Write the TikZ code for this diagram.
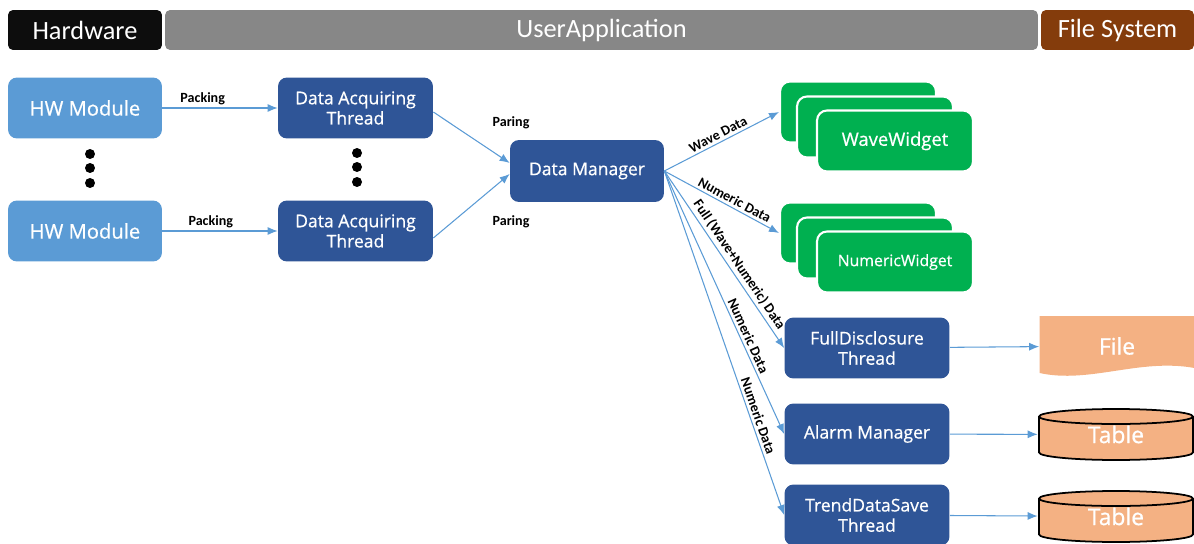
\documentclass[tikz,border=0pt]{standalone}
\usepackage{fontspec}
\setmainfont{Open Sans}
\newfontfamily\semifont{Open Sans}[FakeBold=0.7]
\newfontfamily\calfont{Carlito}
\usepackage{tikz}
\usetikzlibrary{arrows.meta,calc}
\definecolor{hwblue}{HTML}{5B9BD5}
\definecolor{thrblue}{HTML}{2F5597}
\definecolor{wgreen}{HTML}{00B050}
\definecolor{hdblack}{HTML}{0D0D0D}
\definecolor{hdgray}{HTML}{878787}
\definecolor{hdbrown}{HTML}{843C0C}
\definecolor{peach}{HTML}{F4B183}
\definecolor{lnblue}{HTML}{5B9BD5}

\begin{document}
\begin{tikzpicture}[x=0.02cm, y=-0.02cm,
    hdr/.style={rectangle, rounded corners=0.1cm, minimum height=0.8cm, text=white, font=\calfont\fontsize{15}{17}\selectfont},
    hwbox/.style={rectangle, rounded corners=0.18cm, fill=hwblue, minimum width=3.08cm, minimum height=1.22cm, text=white, align=center, font=\semifont\fontsize{11.5}{13}\selectfont},
    thrbox/.style={rectangle, rounded corners=0.18cm, fill=thrblue, minimum width=3.1cm, minimum height=1.22cm, text=white, align=center, font=\semifont\fontsize{10}{11.5}\selectfont},
    card/.style={rectangle, rounded corners=0.2cm, fill=wgreen, draw=white, line width=1.2pt, minimum width=3.12cm, minimum height=1.22cm, text=white, font=\semifont\fontsize{10.5}{12}\selectfont},
    dot/.style={circle, fill=black, inner sep=0pt, minimum size=0.2cm},
    lbl/.style={font=\calfont\bfseries\fontsize{8}{9}\selectfont, inner sep=1.5pt},
    arrow/.style={-{Latex[length=2mm,width=1.6mm]}, draw=lnblue, line width=0.6pt},
    filedoc/.style={minimum width=3.1cm, minimum height=1.2cm, text=white, font=\semifont\fontsize{13}{15}\selectfont,
        path picture={
            \fill[peach] (path picture bounding box.north west) -- (path picture bounding box.north east)
                -- ([shift={(0,-8)}]path picture bounding box.south east)
                .. controls ([shift={(-55,-18)}]path picture bounding box.south east) and ([shift={(50,8)}]path picture bounding box.south west)
                .. ([shift={(0,-3)}]path picture bounding box.south west) -- cycle;
        }},
    tablecyl/.style={minimum width=3.12cm, minimum height=1.06cm, text=white, font=\semifont\fontsize{13}{15}\selectfont,
        path picture={
            \draw[fill=peach, line width=1pt]
                ([shift={(1,8.5)}]path picture bounding box.north west) -- ([shift={(1,-8.5)}]path picture bounding box.south west)
                arc[start angle=180, end angle=360, x radius=1.54cm, y radius=0.15cm]
                -- ([shift={(-1,8.5)}]path picture bounding box.north east)
                arc[start angle=0, end angle=180, x radius=1.54cm, y radius=0.15cm] -- cycle;
            \draw[line width=1pt] ([shift={(1,8.5)}]path picture bounding box.north west)
                arc[start angle=180, end angle=360, x radius=1.54cm, y radius=0.15cm];
        }}
]
    \useasboundingbox (0,0) rectangle (1194,544);

    % Header bar
    \node[hdr, fill=hdblack, minimum width=3.08cm] (hdhw) at (85,30) {Hardware};
    \node[hdr, fill=hdgray, minimum width=17.46cm] (hdua) at (601.5,30) {UserApplication};
    \node[hdr, fill=hdbrown, minimum width=3.06cm] (hdfs) at (1117.5,30) {File System};

    % Hardware modules
    \node[hwbox] (hw1) at (85,108) {HW Module};
    \node[hwbox] (hw2) at (85,231) {HW Module};
    \node[dot] (hwd1) at (90,154) {};
    \node[dot] (hwd2) at (90,168) {};
    \node[dot] (hwd3) at (90,183) {};

    % Acquiring threads
    \node[thrbox] (dat1) at (355.5,108) {Data Acquiring\\Thread};
    \node[thrbox] (dat2) at (355.5,231) {Data Acquiring\\Thread};
    \node[dot] (datd1) at (357,153) {};
    \node[dot] (datd2) at (357,167) {};
    \node[dot] (datd3) at (357,182) {};

    % Manager
    \node[thrbox, minimum width=3.08cm, minimum height=1.24cm] (dm) at (587,171) {Data Manager};

    % Widgets
    \node[card] (wave3) at (858,112) {};
    \node[card] (wave2) at (875,127) {};
    \node[card] (wave1) at (895,141) {WaveWidget};
    \node[card] (num3) at (858,233) {};
    \node[card] (num2) at (875,248) {};
    \node[card, font=\semifont\fontsize{9}{11}\selectfont] (num1) at (895,262) {NumericWidget};

    % Save threads
    \node[thrbox, minimum width=3.3cm] (fd) at (867,348) {FullDisclosure\\Thread};
    \node[thrbox, minimum width=3.3cm] (alarm) at (867,434) {Alarm Manager};
    \node[thrbox, minimum width=3.3cm] (trend) at (867,515) {TrendDataSave\\Thread};

    % File system
    \node[filedoc] (file) at (1117,346) {File};
    \node[tablecyl] (tab1) at (1116,434.5) {Table};
    \node[tablecyl] (tab2) at (1116,516.5) {Table};

    % Arrows
    \draw[arrow] (hw1) -- (dat1) node[lbl, above, pos=0.35] (pk1) {Packing};
    \draw[arrow] (hw2) -- (dat2) node[lbl, above, pos=0.42] (pk2) {Packing};
    \draw[arrow] ([yshift=-0.08cm]dat1.east) -- ([yshift=0.16cm]dm.west);
    \draw[arrow] ([yshift=-0.14cm]dat2.east) -- ([yshift=-0.06cm]dm.west);
    \node[lbl] (par1) at (511,123) {Paring};
    \node[lbl] (par2) at (511,222) {Paring};
    \draw[arrow] (dm.east) -- (wave3.west) node[lbl, sloped, above, pos=0.5] (lwave) {Wave Data};
    \draw[arrow] (dm.east) -- (num3.west) node[lbl, sloped, above, pos=0.58] (lnum) {Numeric Data};
    \draw[arrow] (dm.east) -- (fd.west) node[lbl, sloped, above, pos=0.56] (lfull) {Full (Wave+Numeric) Data};
    \draw[arrow] (dm.east) -- (alarm.west) node[lbl, sloped, above, pos=0.64] (lalm) {Numeric Data};
    \draw[arrow] (dm.east) -- (trend.west) node[lbl, sloped, above, pos=0.72] (ltrd) {Numeric Data};
    \draw[arrow] (fd) -- (file);
    \draw[arrow] (alarm) -- (tab1);
    \draw[arrow] (trend) -- (tab2);
\end{tikzpicture}
\end{document}
